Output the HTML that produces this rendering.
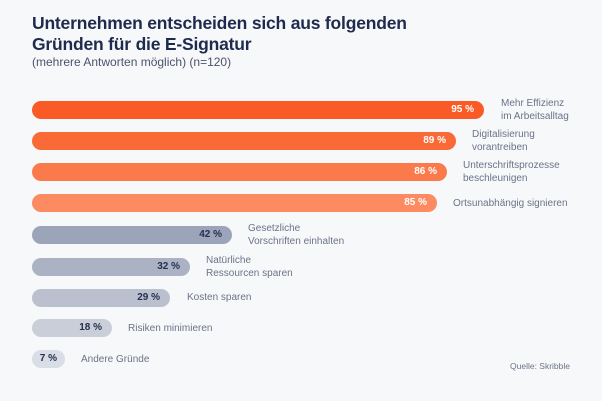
<!DOCTYPE html>
<html><head><meta charset="utf-8"><style>
body{margin:0;width:602px;height:401px;background:#f7f8fa;font-family:"Liberation Sans",sans-serif;position:relative;overflow:hidden}
.t{position:absolute;left:32px;top:13px;font-size:17.5px;font-weight:bold;color:#1f2b4d;line-height:21px;letter-spacing:-0.2px}
.s{position:absolute;left:32px;top:55px;font-size:12px;color:#4a536b}
.b{position:absolute;left:32px;height:18px;border-radius:9px;color:#fff;font-size:10px;font-weight:bold;text-align:right;box-sizing:border-box;padding-right:10px;line-height:18px}
.g{color:#25304f}
.l{position:absolute;font-size:10px;color:#6b7388;line-height:12.5px}
</style></head><body>
<div class="t">Unternehmen entscheiden sich aus folgenden<br>Gründen für die E-Signatur</div>
<div class="s">(mehrere Antworten möglich) (n=120)</div>

<div class="b" style="top:101px;width:452px;background:#fa5a25">95 %</div>
<div class="l" style="left:501px;top:98px">Mehr Effizienz<br>im Arbeitsalltag</div>
<div class="b" style="top:132px;width:424px;background:#fa6a37">89 %</div>
<div class="l" style="left:472px;top:129px">Digitalisierung<br>vorantreiben</div>
<div class="b" style="top:163px;width:415px;background:#fb7a4c">86 %</div>
<div class="l" style="left:463px;top:160px">Unterschriftsprozesse<br>beschleunigen</div>
<div class="b" style="top:194px;width:405px;background:#fc8b62">85 %</div>
<div class="l" style="left:453px;top:198px">Ortsunabhängig signieren</div>

<div class="b g" style="top:226px;width:200px;background:#9ca4b9">42 %</div>
<div class="l" style="left:248px;top:223px">Gesetzliche<br>Vorschriften einhalten</div>
<div class="b g" style="top:258px;width:158px;background:#abb2c3">32 %</div>
<div class="l" style="left:206px;top:255px">Natürliche<br>Ressourcen sparen</div>
<div class="b g" style="top:289px;width:138px;background:#bac0ce">29 %</div>
<div class="l" style="left:187px;top:292px">Kosten sparen</div>
<div class="b g" style="top:319px;width:80px;background:#c9ced9">18 %</div>
<div class="l" style="left:128px;top:323px">Risiken minimieren</div>
<div class="b g" style="top:350px;width:33px;background:#d9dde6;padding-right:8px">7 %</div>
<div class="l" style="left:81px;top:354px">Andere Gründe</div>
<div class="l" style="left:510px;top:360px;font-size:8.5px">Quelle: Skribble</div>
</body></html>
